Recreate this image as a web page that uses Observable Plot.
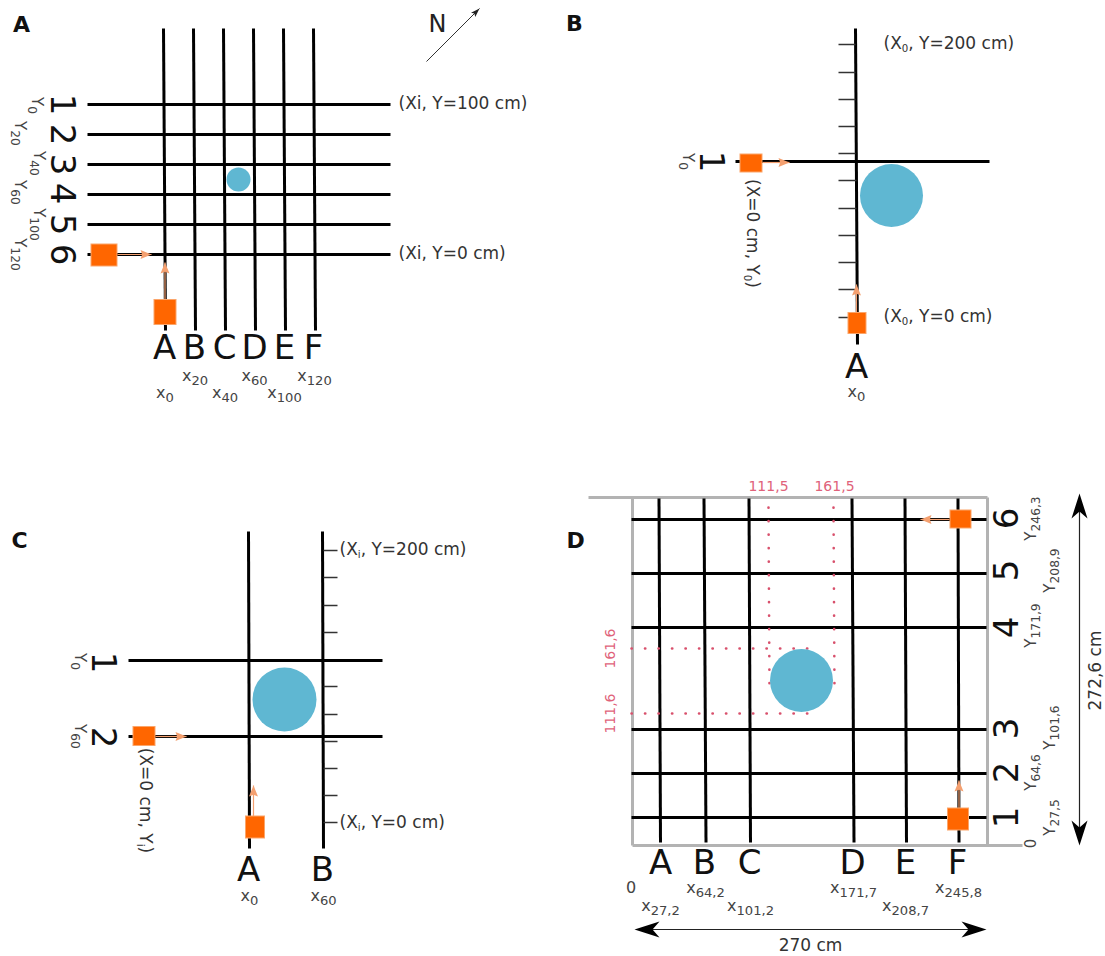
<!DOCTYPE html>
<html>
<head>
<meta charset="utf-8">
<script src="https://cdn.jsdelivr.net/npm/d3@7"></script>
<script src="https://cdn.jsdelivr.net/npm/@observablehq/plot@0.6"></script>
<style>html,body{margin:0;padding:0;background:#fff}svg{display:block}</style>
</head>
<body>
<div id="chart"></div>
<script>
// All diagram values are in the diagram's own sheet units, rows are [x1, y1, x2, y2].
const gridLines = [
  // Panel A
  [163,28,165,330],[193,28,195,330],[223,28,225,330],[253,28,255,330],[283,28,285,330],[313,28,315,330],
  [87,104,390,104],[87,134,390,134],[87,164,390,164],[87,194,390,194],[87,224,390,224],[87,254,390,254],
  // Panel B
  [855,28,857,344],[735,161,989,161],
  // Panel C
  [248,531,249,848],[322,531,323,848],[128,660,382,660],[128,736,382,736],
  // Panel D
  [658.5,498,660,842],[703.5,498,705.5,842],[748.5,498,750,842],[851.5,498,853.5,842],[904.5,498,906,842],[957.5,498,958.5,842],
  [631,519,986,519],[631,573,986,573],[631,627,986,627],[631,729,986,729],[631,773,986,773],[631,817,986,817]
];
const tickLines = [
  [838,44,855,44],[838,72,855,72],[838,99,855,99],[838,126,855,126],[838,153,855,153],[838,180,856,180],
  [838,208,856,208],[838,235,856,235],[838,262,856,262],[838,289,856,289],[838,317,856,317],
  [323,550,337,550],[323,577,337,577],[323,605,337,605],[323,632,337,632],[323,686,337,686],
  [323,714,337,714],[323,741,337,741],[323,768,337,768],[323,795,337,795],[323,822,337,822]
];
const frameLines = [
  [588,497,987,497],[632,497,632,845],[987,497,987,845],[632,845,1022,845]
];
const dottedLines = [
  [768,507,769,690],[833,507,834,690],[631,648,810,648],[631,713,810,713]
];
const circleRows = [[238,179,12],[891,195,31.5],[284,699,32],[801,680,31.5]];
// [centre x, centre y, width, height]
const squareRows = [
  [104,255,26,22],[165,312,22,25],
  [751,163,22,18],[857,323,18,21],
  [144,736,22,19],[255,827,19,22],
  [960.5,519,21,18],[958,819,21,22]
];
const orangeArrows = [
  [117,254,151,254],[164.5,300,164.5,262],
  [762,162,789,162],[856,312,856,284],
  [155,736,186,736],[253,817,253,785],
  [949,519,920,519],[958.5,808,958.5,780]
];
const northArrow = [[426,61,479,8]];
const dimensionArrows = [[1079,520,1079,493],[1079,820,1079,845],[660,929,634,929],[960,929,986,929]];
const dimensionShafts = [[1079,500,1079,840],[640,929,980,929]];

// [text, x, y, rotate]
const bigLabels = [
  ["A",164,348,0],["B",194,348,0],["C",224,348,0],["D",254,348,0],["E",284,348,0],["F",313,348,0],
  ["1",61,104,90],["2",61,134,90],["3",61,164,90],["4",61,193,90],["5",61,224,90],["6",61,254,90],
  ["1",710,161,90],["A",856,367,0],
  ["A",248,870,0],["B",322,870,0],["1",102,662,90],["2",102,737,90],
  ["A",660,863,0],["B",704,863,0],["C",749,863,0],["D",852,863,0],["E",905,863,0],["F",957,863,0],
  ["6",1007,518,-90],["5",1007,570,-90],["4",1007,627,-90],["3",1007,728,-90],["2",1007,772,-90],["1",1007,817,-90]
];
const panelLabels = [["A",21,24],["B",574,23],["C",19,540],["D",575,540]];
const xLabels = [
  ["x_{0}",164.5,392],["x_{20}",194.5,375],["x_{40}",224.5,392],["x_{60}",254,375],["x_{100}",284,392],["x_{120}",314,375],
  ["x_{0}",856,391],["x_{0}",249,895],["x_{60}",323,895],
  ["0",630.5,887],["x_{27,2}",660,905],["x_{64,2}",705,887],["x_{101,2}",750,905],["x_{171,7}",853,887],["x_{208,7}",905,905],["x_{245,8}",958,887]
];
// [text, x, y, rotate]
const yLabels = [
  ["Y_{0}",36,105,90],["Y_{20}",19,133,90],["Y_{40}",38,163,90],["Y_{60}",19,192,90],["Y_{100}",38,224,90],["Y_{120}",19,254,90],
  ["Y_{0}",687,161,90],["Y_{0}",79,661,90],["Y_{60}",79,736,90],
  ["Y_{246,3}",1031,518,-90],["Y_{208,9}",1050,570,-90],["Y_{171,9}",1031,625,-90],
  ["Y_{101,6}",1050,727,-90],["Y_{64,6}",1031,772,-90],["Y_{27,5}",1050,817,-90],["0",1031,843,-90]
];
const noteStart = [
  ["(Xi, Y=100 cm)",398,103],["(Xi, Y=0 cm)",398,253],
  ["(X~{0}, Y=200 cm)",883,43],["(X~{0}, Y=0 cm)",883,316],
  ["(X~{i}, Y=200 cm)",339,549],["(X~{i}, Y=0 cm)",339,822]
];
const noteRotated = [
  ["(X=0 cm, Y~{0})",752,233,90],["(X=0 cm, Y~{i})",145,800,90],
  ["270 cm",810,945,0],["272,6 cm",1095,670,-90]
];
const redLabels = [
  ["111,5",768,486,0],["161,5",834,486,0],["161,6",610,648,-90],["111,6",610,713,-90]
];
const compassLabel = [["N",437,24]];

const font = "DejaVu Sans";
const seg = {x1: d => d[0], y1: d => d[1], x2: d => d[2], y2: d => d[3]};
const lab = {text: d => d[0], x: d => d[1], y: d => d[2], rotate: d => d[3] || 0, fontFamily: font};
const bearing = d => Math.atan2(d[2] - d[0], d[1] - d[3]) * 180 / Math.PI;
const barb = (len, half, notch) => ({draw(c) {
  c.moveTo(0, 0); c.lineTo(half, len); c.lineTo(0, len * notch); c.lineTo(-half, len); c.closePath();
}});
const headAt = (rows, symbol, fill) => Plot.dot(rows, {
  x: d => d[2], y: d => d[3], rotate: bearing, symbol, fill, stroke: "none"
});

const chart = Plot.plot({
  width: 1105, height: 956,
  marginTop: 0, marginRight: 0, marginBottom: 0, marginLeft: 0,
  x: {domain: [0, 1105], range: [0, 1105], axis: null},
  y: {domain: [0, 956], range: [0, 956], axis: null},
  r: {type: "identity"},
  style: {background: "#fff", fontFamily: font},
  marks: [
    Plot.link(frameLines, {...seg, stroke: "#b3b3b3", strokeWidth: 3}),
    Plot.link(gridLines, {...seg, stroke: "#000", strokeWidth: 3}),
    Plot.link(tickLines, {...seg, stroke: "#333", strokeWidth: 1.5}),
    Plot.link(dottedLines, {...seg, stroke: "#d8506c", strokeWidth: 2.6, strokeLinecap: "round", strokeDasharray: "0.3 13.2"}),
    Plot.dot(circleRows, {x: d => d[0], y: d => d[1], r: d => d[2], fill: "#5fb7d2", stroke: "none"}),
    Plot.link(orangeArrows, {...seg, stroke: "#f4a070", strokeWidth: 1.2}),
    headAt(orangeArrows, barb(11, 4.5, 0.85), "#f4a070"),
    Plot.link(northArrow, {...seg, stroke: "#333", strokeWidth: 1}),
    headAt(northArrow, barb(9, 3, 0.8), "#222"),
    Plot.link(dimensionShafts, {...seg, stroke: "#222", strokeWidth: 1.2}),
    headAt(dimensionArrows, barb(25, 8, 0.72), "#000"),
    Plot.rect(squareRows, {
      x1: d => d[0] - d[2] / 2, x2: d => d[0] + d[2] / 2,
      y1: d => d[1] - d[3] / 2, y2: d => d[1] + d[3] / 2,
      fill: "#ff6600", stroke: "#fba56a", strokeWidth: 1
    }),
    Plot.text(bigLabels, {...lab, fontSize: 34, fill: "#111"}),
    Plot.text(panelLabels, {...lab, fontSize: 22, fontWeight: "bold", fill: "#111"}),
    Plot.text(compassLabel, {...lab, fontSize: 24, fill: "#222"}),
    Plot.text(xLabels, {...lab, fontSize: 16, fill: "#444"}),
    Plot.text(yLabels, {...lab, fontSize: 15, fill: "#444"}),
    Plot.text(noteStart, {...lab, fontSize: 17, textAnchor: "start", fill: "#333"}),
    Plot.text(noteRotated, {...lab, fontSize: 17, fill: "#333"}),
    Plot.text(redLabels, {...lab, fontSize: 14, fill: "#e0627a"})
  ]
});

// Subscripts: _{..} is a large subscript, ~{..} a small one; the text stays real text.
chart.querySelectorAll("text").forEach(t => {
  const m = /^(.*?)([_~])\{(.*?)\}(.*)$/.exec(t.textContent);
  if (!m) return;
  t.textContent = "";
  const ns = "http://www.w3.org/2000/svg";
  const add = (s, attrs) => {
    const sp = document.createElementNS(ns, "tspan");
    for (const k in attrs) sp.setAttribute(k, attrs[k]);
    sp.textContent = s;
    t.appendChild(sp);
  };
  const size = m[2] === "_" ? 0.82 : 0.6;
  add(m[1], {});
  add(m[3], {"font-size": size + "em", dy: "0.3em"});
  if (m[4]) add(m[4], {dy: (-0.3 * size) + "em"});
});
document.getElementById("chart").appendChild(chart);
</script>
</body>
</html>
